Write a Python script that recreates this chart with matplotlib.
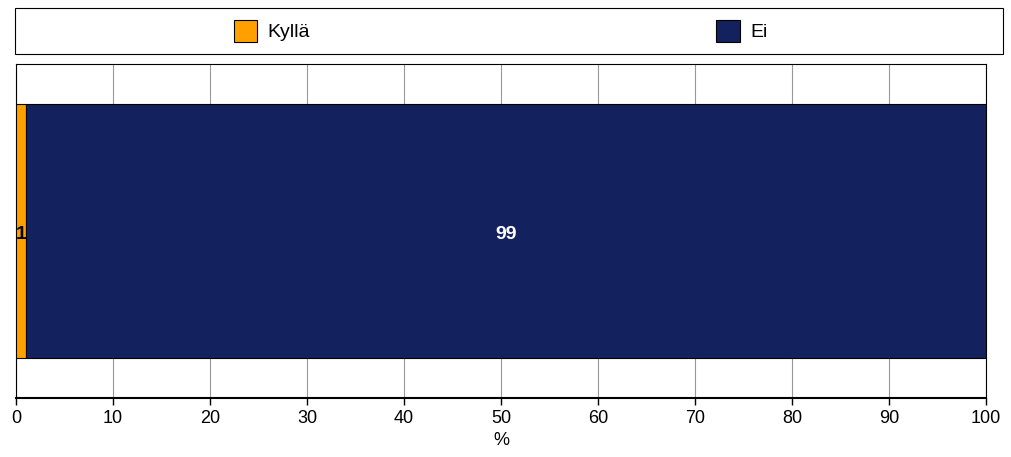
import matplotlib
matplotlib.use("Agg")
import matplotlib.pyplot as plt
import matplotlib.patches as mpatches

plt.rcParams['font.family'] = ['Liberation Sans', 'DejaVu Sans']

# --- DATA ---
series = ["Kyllä", "Ei"]
values = [1, 99]
colors = ["#FFA000", "#14215F"]
label_colors = ["black", "white"]
xticks = [0, 10, 20, 30, 40, 50, 60, 70, 80, 90, 100]

fig = plt.figure(figsize=(10.11, 4.57), dpi=100)
ax = fig.add_axes([16 / 1011, 1 - 398 / 457, 970 / 1011, 334 / 457])

left = 0
for name, val, col, lc in zip(series, values, colors, label_colors):
    ax.barh(0, val, left=left, height=0.76, color=col, edgecolor='black',
            linewidth=0.8, label=name, zorder=3)
    ax.text(left + val / 2, -0.01, str(val), ha='center', va='center',
            color=lc, fontsize=14, fontweight='bold', zorder=4)
    left += val

ax.set_xlim(0, 100)
ax.set_ylim(-0.5, 0.5)
ax.set_xticks(xticks)
ax.set_yticks([])
ax.tick_params(axis='x', direction='out', length=5, labelsize=13, width=1)
ax.grid(True, axis='x', color='#999999', linewidth=0.8, zorder=0)
for s in ax.spines.values():
    s.set_linewidth(0.8)
ax.spines['bottom'].set_linewidth(1.5)
ax.set_xlabel('%', fontsize=13, labelpad=4)

# Legend box
box = mpatches.Rectangle((15 / 1011, 1 - 54 / 457), 988 / 1011, 46 / 457,
                         transform=fig.transFigure, fill=False,
                         edgecolor='black', linewidth=0.8)
fig.patches.append(box)
handles = [mpatches.Patch(facecolor=c, edgecolor='black', linewidth=0.8) for c in colors]
fig.legend(handles, series, ncol=2, loc='center left',
           bbox_to_anchor=(218 / 1011, 1 - 31 / 457), frameon=False,
           fontsize=14, handlelength=1.2, handleheight=1.4,
           handletextpad=0.55, columnspacing=20.9, borderpad=0.3)

fig.savefig("out.png", dpi=100)
